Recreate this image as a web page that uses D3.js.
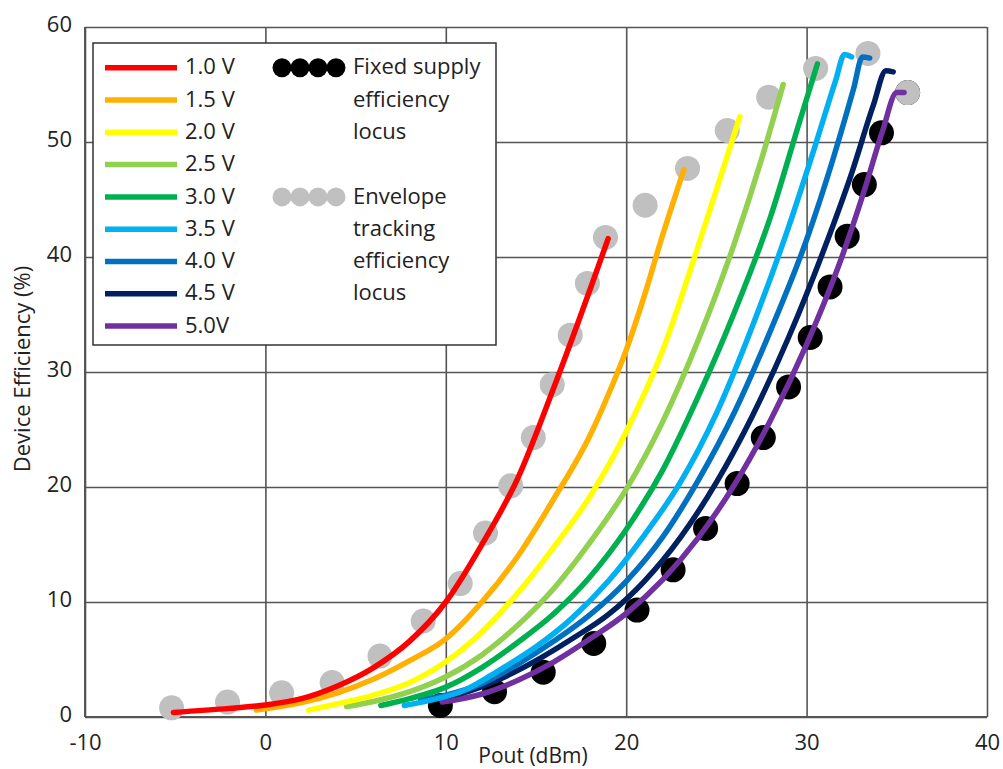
<!DOCTYPE html>
<html>
<head>
<meta charset="utf-8">
<script src="https://cdn.jsdelivr.net/npm/d3@7"></script>
<style>
  body { margin: 0; background: #fff; }
  svg { display: block; }
  text { font-family: "Open Sans", "Noto Sans", sans-serif; fill: #222; }
</style>
</head>
<body>
<div class="canva"></div>
<script>
// tick values
const xTicks = [-10, 0, 10, 20, 30, 40];
const yTicks = [0, 10, 20, 30, 40, 50, 60];

// supply voltages (legend labels) and their colours
const voltLabels = ["1.0 V", "1.5 V", "2.0 V", "2.5 V", "3.0 V", "3.5 V", "4.0 V", "4.5 V", "5.0V"];
const voltColors = ["#ff0000", "#ffb000", "#ffff00", "#92d050", "#00b050", "#00b0f0", "#0070c0", "#002060", "#7030a0"];

// efficiency curves, [Pout dBm, efficiency %]
const v10 = [[-5.1,0.4],[-2,0.75],[0,1.05],[2,1.6],[4,2.7],[6,4.3],[8,6.6],[10,10],[12,15],[14,20.8],[16,28.7],[18,37.2],[19.0,41.6]];
const v15 = [[-0.5,0.6],[2,1.25],[4,2.1],[6,3.3],[8,4.9],[10,6.8],[12,10.0],[14,14.0],[16,19.0],[18,24.5],[19,28],[20,31.9],[21,36.6],[22,41.8],[23.2,47.6]];
const v20 = [[2.4,0.6],[4,1.15],[6,1.9],[8,3.0],[10,4.8],[12,7.4],[14,10.8],[16,14.8],[18,19.2],[20,24.8],[22,31.8],[24,41.0],[25.5,48.3],[26.3,52.2]];
const v25 = [[4.5,0.9],[6,1.35],[8,2.2],[10,3.5],[12,5.4],[14,8.0],[16,11.2],[18,15.2],[20,19.8],[22,25.6],[24,32.8],[26,41.2],[27.5,48.5],[28.7,55]];
const v30 = [[6.4,1.0],[8,1.6],[10,2.6],[12,4.3],[14,6.5],[16,9.0],[18,12.2],[20,16.3],[22,21.4],[24,27.9],[26,35.2],[28,43.5],[29.5,51.2],[30.6,56.8]];
const v35 = [[7.7,1.0],[9,1.4],[11,2.3],[13,4.1],[15,6.1],[17,8.6],[19,11.8],[21,15.8],[23,20.4],[25,26.4],[27,34.0],[29,42.6],[30.5,49.8],[31.6,55.3],[32.1,57.6],[32.5,57.4]];
const v40 = [[8.6,1.5],[10,1.9],[12,2.9],[14,4.6],[16,6.6],[18,8.9],[20,11.8],[22,15.6],[24,20.6],[26,26.5],[28,33.6],[30,41.5],[31.5,48.7],[32.6,54.6],[33.1,57.4],[33.5,57.3]];
const v45 = [[9.1,1.6],[11,2.1],[13,3.3],[15,4.9],[17,6.8],[19,8.9],[21,11.8],[23,15.6],[25,20.4],[27,26.2],[29,33.0],[31,40.8],[32.5,47.3],[33.7,53.2],[34.4,56.2],[34.8,56.1]];
const v50 = [[9.8,1.3],[12,2.0],[14,3.2],[16,4.8],[18,6.8],[20,9.0],[22,11.9],[24,15.6],[26,20.2],[28,25.8],[30,32.4],[32,40.2],[33.2,45.8],[34.2,50.9],[35,54.3],[35.4,54.3]];

// efficiency loci
const fixedLocus = [[9.7,1.0],[12.7,2.2],[15.4,3.9],[18.2,6.4],[20.6,9.3],[22.6,12.8],[24.4,16.4],[26.15,20.3],[27.6,24.3],[29.0,28.7],[30.2,33.0],[31.3,37.4],[32.25,41.8],[33.2,46.3],[34.15,50.8],[35.6,54.3]];
const etLocus = [[-5.2,0.8],[-2.1,1.3],[0.9,2.1],[3.7,3.0],[6.35,5.3],[8.75,8.35],[10.8,11.6],[12.2,16.0],[13.6,20.1],[14.85,24.3],[15.9,28.9],[16.9,33.2],[17.85,37.7],[18.85,41.7],[21.05,44.5],[23.4,47.7],[25.6,51.0],[27.9,53.9],[30.5,56.4],[33.4,57.7],[35.6,54.3]];

const curves = [v10, v15, v20, v25, v30, v35, v40, v45, v50];

const W = 1003, H = 769;
const svg = d3.select(".canva").append("svg")
    .attr("width", W)
    .attr("height", H);

const x = d3.scaleLinear().domain([-10, 40]).range([85, 987]);
const y = d3.scaleLinear().domain([0, 60]).range([717, 27]);

// grid + axes
const gx = svg.append("g")
    .attr("transform", "translate(0," + y(0) + ")")
    .call(d3.axisBottom(x).tickValues(xTicks).tickFormat(d => String(d))
      .tickSize(-(y(0) - y(60))).tickPadding(17));
const gy = svg.append("g")
    .attr("transform", "translate(" + x(-10) + ",0)")
    .call(d3.axisLeft(y).tickValues(yTicks).tickFormat(d => String(d))
      .tickSize(-(x(40) - x(-10))).tickPadding(13));

[gx, gy].forEach(g => {
  g.select(".domain").remove();
  g.selectAll(".tick line").attr("stroke", "#555").attr("stroke-width", 1.6);
  g.selectAll(".tick text")
    .style("font-family", "'Open Sans', 'Noto Sans', sans-serif")
    .style("font-size", "22px")
    .attr("fill", "#222");
});
gy.selectAll(".tick text").attr("dy", "0.2em");

// axis frame on left and bottom
svg.append("line").attr("x1", x(-10)).attr("x2", x(-10)).attr("y1", y(60)).attr("y2", y(0))
  .attr("stroke", "#555").attr("stroke-width", 2);
svg.append("line").attr("x1", x(-10)).attr("x2", x(40)).attr("y1", y(0)).attr("y2", y(0))
  .attr("stroke", "#555").attr("stroke-width", 2);

// axis titles
svg.append("text")
  .attr("x", 533).attr("y", 763)
  .attr("text-anchor", "middle")
  .style("font-size", "21px")
  .text("Pout (dBm)");
svg.append("text")
  .attr("transform", "translate(30,369) rotate(-90)")
  .attr("text-anchor", "middle")
  .style("font-size", "22px")
  .text("Device Efficiency (%)");

// loci dots
svg.append("g").selectAll("circle")
  .data(fixedLocus)
  .enter().append("circle")
  .attr("cx", d => x(d[0]))
  .attr("cy", d => y(d[1]))
  .attr("r", 12.5)
  .attr("fill", "#000");

svg.append("g").selectAll("circle")
  .data(etLocus)
  .enter().append("circle")
  .attr("cx", d => x(d[0]))
  .attr("cy", d => y(d[1]))
  .attr("r", 12.5)
  .attr("fill", "#c0c0c0");

// curves, 5.0 V first so 1.0 V sits on top
const line = d3.line()
  .x(d => x(d[0]))
  .y(d => y(d[1]))
  .curve(d3.curveMonotoneX);

const order = d3.range(curves.length).reverse();
svg.append("g").selectAll("path")
  .data(order)
  .enter().append("path")
  .attr("d", i => line(curves[i]))
  .attr("fill", "none")
  .attr("stroke", i => voltColors[i])
  .attr("stroke-width", 5.5)
  .attr("stroke-linecap", "round")
  .attr("stroke-linejoin", "round");

// legend
const lg = svg.append("g");
lg.append("rect")
  .attr("x", 93).attr("y", 43)
  .attr("width", 403).attr("height", 302)
  .attr("fill", "#fff")
  .attr("stroke", "#333")
  .attr("stroke-width", 1.5);

const rowY = i => 67.7 + i * 32.3;

voltLabels.forEach((lab, i) => {
  lg.append("line")
    .attr("x1", 105).attr("x2", 177)
    .attr("y1", rowY(i)).attr("y2", rowY(i))
    .attr("stroke", voltColors[i])
    .attr("stroke-width", 5.5);
  lg.append("text")
    .attr("x", 185).attr("y", rowY(i))
    .attr("dy", "0.3em")
    .style("font-size", "22px")
    .text(lab);
});

const dotX = [282, 300, 318, 336];
const lociLegend = [
  { fill: "#000", row: 0, lines: ["Fixed supply", "efficiency", "locus"] },
  { fill: "#c0c0c0", row: 4, lines: ["Envelope", "tracking", "efficiency", "locus"] }
];
lociLegend.forEach(d => {
  dotX.forEach(cx => {
    lg.append("circle")
      .attr("cx", cx).attr("cy", rowY(d.row))
      .attr("r", 9.5)
      .attr("fill", d.fill);
  });
  d.lines.forEach((t, j) => {
    lg.append("text")
      .attr("x", 353).attr("y", rowY(d.row + j))
      .attr("dy", "0.3em")
      .style("font-size", "22px")
      .text(t);
  });
});
</script>
</body>
</html>
